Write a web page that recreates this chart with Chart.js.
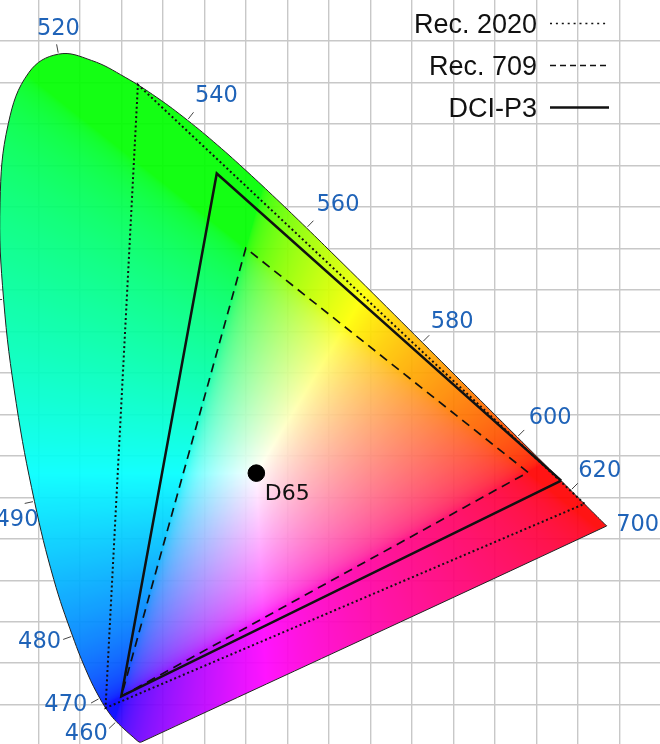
<!DOCTYPE html>
<html>
<head>
<meta charset="utf-8">
<script src="https://cdn.jsdelivr.net/npm/chart.js@4"></script>
<style>
  html, body { margin: 0; padding: 0; background: #ffffff; }
  #wrap { width: 660px; height: 744px; position: relative; }
</style>
</head>
<body>
<div id="wrap"><canvas id="c"></canvas></div>
<script>
// ---- Data: CIE 1931 2° spectral locus ----
const wavelengths = [380,390,400,410,420,430,440,450,460,465,470,475,480,485,490,495,500,505,510,515,520,525,530,535,540,545,550,555,560,565,570,575,580,585,590,595,600,605,610,615,620,625,630,635,640,645,650,660,670,680,700];
const locusX = [0.1741,0.1738,0.1733,0.1726,0.1714,0.1689,0.1644,0.1566,0.1440,0.1355,0.1241,0.1096,0.0913,0.0687,0.0454,0.0235,0.0082,0.0039,0.0139,0.0389,0.0743,0.1142,0.1547,0.1929,0.2296,0.2658,0.3016,0.3373,0.3731,0.4087,0.4441,0.4788,0.5125,0.5448,0.5752,0.6029,0.6270,0.6482,0.6658,0.6801,0.6915,0.7006,0.7079,0.7140,0.7190,0.7230,0.7260,0.7300,0.7320,0.7334,0.7347];
const locusY = [0.0050,0.0049,0.0048,0.0048,0.0051,0.0069,0.0109,0.0177,0.0297,0.0399,0.0578,0.0868,0.1327,0.2007,0.2950,0.4127,0.5384,0.6548,0.7502,0.8120,0.8338,0.8262,0.8059,0.7816,0.7543,0.7243,0.6923,0.6589,0.6245,0.5896,0.5547,0.5202,0.4866,0.4544,0.4242,0.3965,0.3725,0.3514,0.3340,0.3197,0.3083,0.2993,0.2920,0.2859,0.2809,0.2770,0.2740,0.2700,0.2680,0.2666,0.2653];
const labeledWavelengths = [460,470,480,490,500,520,540,560,580,600,620,700];
const labeledTexts = ['460','470','480','490','','520','540','560','580','600','620','700'];

// ---- Gamut primaries (R, G, B) ----
const gamutNames = ['Rec. 2020','Rec. 709','DCI-P3'];
const rec2020X = [0.708, 0.170, 0.131];
const rec2020Y = [0.292, 0.797, 0.046];
const rec709X  = [0.640, 0.300, 0.150];
const rec709Y  = [0.330, 0.600, 0.060];
const p3X      = [0.680, 0.265, 0.150];
const p3Y      = [0.320, 0.690, 0.060];
const whiteName = 'D65';
const whiteX = [0.3127];
const whiteY = [0.3290];

// ---- Grid tick values ----
const xGridValues = [0.05,0.10,0.15,0.20,0.25,0.30,0.35,0.40,0.45,0.50,0.55,0.60,0.65,0.70,0.75];
const yGridValues = [0.05,0.10,0.15,0.20,0.25,0.30,0.35,0.40,0.45,0.50,0.55,0.60,0.65,0.70,0.75,0.80,0.85];

// ---- View window (styling) ----
const VIEW = { xMin: 0.00386, xMax: 0.79904, yMin: 0.00265, yMax: 0.89904 };
const LABEL_OFFSETS = {
  460: [-30, 12], 470: [-34, 5.5], 480: [-33, 5], 490: [-17.5, 18], 500: [-30, 0],
  520: [0, -26], 540: [29, -25], 560: [31.5, -24], 580: [30, -21], 600: [33, -20],
  620: [29, -20], 700: [31, -2]
};
const LABEL_COLOR = '#1f63b8';
const LOCUS_INDEX = 4;

function pts(xs, ys, close) {
  const p = xs.map((v, i) => ({ x: v, y: ys[i] }));
  if (close) p.push({ x: xs[0], y: ys[0] });
  return p;
}

// Paint the chromaticity colors inside the spectral locus
const cieFill = {
  id: 'cieFill',
  beforeDatasetsDraw(chart) {
    const { ctx, chartArea: a, scales: { x: sx, y: sy } } = chart;
    const w = Math.round(a.right - a.left), h = Math.round(a.bottom - a.top);
    const off = document.createElement('canvas');
    off.width = w; off.height = h;
    const octx = off.getContext('2d');
    const img = octx.createImageData(w, h);
    const d = img.data;
    const xs = new Float64Array(w), ys = new Float64Array(h);
    for (let i = 0; i < w; i++) xs[i] = sx.getValueForPixel(a.left + i + 0.5);
    for (let j = 0; j < h; j++) ys[j] = sy.getValueForPixel(a.top + j + 0.5);
    const gam = c => c <= 0.0031308 ? 12.92 * c : 1.055 * Math.pow(c, 1 / 2.4) - 0.055;
    for (let j = 0; j < h; j++) {
      const cy = Math.max(ys[j], 0.0005);
      for (let i = 0; i < w; i++) {
        const cx = xs[i];
        const X = cx / cy, Y = 1, Z = (1 - cx - cy) / cy;
        let r = 3.2406 * X - 1.5372 * Y - 0.4986 * Z;
        let g = -0.9689 * X + 1.8758 * Y + 0.0415 * Z;
        let b = 0.0557 * X - 0.2040 * Y + 1.0570 * Z;
        r = Math.max(r, 0); g = Math.max(g, 0); b = Math.max(b, 0);
        const m = Math.max(r, g, b) || 1;
        const k = (j * w + i) * 4;
        d[k] = Math.round(255 * gam(r / m));
        d[k + 1] = Math.round(255 * gam(g / m));
        d[k + 2] = Math.round(255 * gam(b / m));
        d[k + 3] = 255;
      }
    }
    octx.putImageData(img, 0, 0);
    ctx.save();
    ctx.beginPath();
    const line = chart.getDatasetMeta(LOCUS_INDEX).dataset;
    let drawn = false;
    if (line && typeof line.path === 'function') {
      try {
        if (line.updateControlPoints) line.updateControlPoints(a, 'x');
        line.path(ctx);
        drawn = true;
      } catch (e) { drawn = false; ctx.beginPath(); }
    }
    if (!drawn) {
      locusX.forEach((v, i) => {
        const px = sx.getPixelForValue(v), py = sy.getPixelForValue(locusY[i]);
        if (i) ctx.lineTo(px, py); else ctx.moveTo(px, py);
      });
    }
    ctx.closePath();
    ctx.clip();
    ctx.globalAlpha = 0.92;
    ctx.drawImage(off, a.left, a.top, w, h);
    ctx.restore();
  }
};

// Wavelength ticks & labels, D65 label, legend
const annotations = {
  id: 'annotations',
  afterDatasetsDraw(chart) {
    const { ctx, scales: { x: sx, y: sy } } = chart;
    ctx.save();
    labeledWavelengths.forEach((wl, n) => {
      const i = wavelengths.indexOf(wl);
      const px = sx.getPixelForValue(locusX[i]), py = sy.getPixelForValue(locusY[i]);
      const p0x = sx.getPixelForValue(locusX[i - 1]), p0y = sy.getPixelForValue(locusY[i - 1]);
      const p1x = sx.getPixelForValue(locusX[i + 1]), p1y = sy.getPixelForValue(locusY[i + 1]);
      let dx = p1x - p0x, dy = p1y - p0y;
      const L = Math.hypot(dx, dy); dx /= L; dy /= L;
      const nx = dy, ny = -dx;
      ctx.strokeStyle = '#444';
      ctx.lineWidth = 1;
      ctx.beginPath();
      ctx.moveTo(px + nx * 1.5, py + ny * 1.5);
      ctx.lineTo(px + nx * 10, py + ny * 10);
      ctx.stroke();
      const t = labeledTexts[n];
      if (t) {
        const o = LABEL_OFFSETS[wl];
        ctx.fillStyle = LABEL_COLOR;
        ctx.font = '22.5px "DejaVu Sans"';
        ctx.textAlign = 'center';
        ctx.textBaseline = 'middle';
        ctx.fillText(t, px + o[0], py + o[1] + 1);
      }
    });
    // D65 label
    const wx = sx.getPixelForValue(whiteX[0]), wy = sy.getPixelForValue(whiteY[0]);
    ctx.fillStyle = '#111';
    ctx.font = '22px "DejaVu Sans"';
    ctx.textAlign = 'left';
    ctx.textBaseline = 'alphabetic';
    ctx.fillText(whiteName, wx + 8.5, wy + 27);
    ctx.restore();
  },
  afterDraw(chart) {
    const { ctx } = chart;
    const styles = [
      { dash: [2, 3.9], width: 1.6 },
      { dash: [6, 4], width: 1.6 },
      { dash: [], width: 2.6 }
    ];
    ctx.save();
    gamutNames.forEach((name, i) => {
      const base = 33 + i * 42;
      ctx.fillStyle = '#111';
      ctx.font = '27px "Liberation Sans", Arial, sans-serif';
      ctx.textAlign = 'right';
      ctx.textBaseline = 'alphabetic';
      ctx.fillText(name, 537, base);
      ctx.strokeStyle = '#111';
      ctx.lineWidth = styles[i].width;
      ctx.setLineDash(styles[i].dash);
      ctx.beginPath();
      ctx.moveTo(550, base - 9.5);
      ctx.lineTo(609, base - 9.5);
      ctx.stroke();
    });
    ctx.restore();
  }
};

const gridOpts = { color: '#c8c8c8', lineWidth: 1.4, drawTicks: false };

new Chart(document.getElementById('c'), {
  type: 'scatter',
  data: {
    datasets: [
      { label: whiteName, data: pts(whiteX, whiteY, false), pointRadius: 8.3, pointBackgroundColor: '#000', pointBorderColor: '#000', showLine: false },
      { label: gamutNames[2], data: pts(p3X, p3Y, true), showLine: true, borderColor: '#111', borderWidth: 2.5, pointRadius: 0, fill: false, tension: 0 },
      { label: gamutNames[1], data: pts(rec709X, rec709Y, true), showLine: true, borderColor: '#111', borderWidth: 1.7, borderDash: [9, 6], pointRadius: 0, fill: false, tension: 0 },
      { label: gamutNames[0], data: pts(rec2020X, rec2020Y, true), showLine: true, borderColor: '#111', borderWidth: 2, borderDash: [2, 2.7], pointRadius: 0, fill: false, tension: 0 },
      { label: 'Spectral locus', data: pts(locusX, locusY, true), showLine: true, borderColor: '#222', borderWidth: 1, pointRadius: 0, fill: false, tension: 0.4, capBezierPoints: false }
    ]
  },
  options: {
    animation: false,
    responsive: true,
    maintainAspectRatio: false,
    layout: { padding: 0, autoPadding: false },
    plugins: { legend: { display: false }, tooltip: { enabled: false } },
    scales: {
      x: {
        type: 'linear', min: VIEW.xMin, max: VIEW.xMax,
        ticks: { display: false }, grid: gridOpts, border: { display: false },
        afterBuildTicks: ax => { ax.ticks = xGridValues.map(v => ({ value: v })); }
      },
      y: {
        type: 'linear', min: VIEW.yMin, max: VIEW.yMax,
        ticks: { display: false }, grid: gridOpts, border: { display: false },
        afterBuildTicks: ax => { ax.ticks = yGridValues.map(v => ({ value: v })); }
      }
    }
  },
  plugins: [cieFill, annotations]
});
</script>
</body>
</html>
